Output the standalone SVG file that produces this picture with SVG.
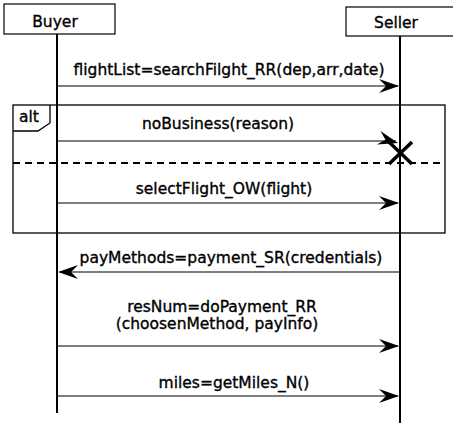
<svg xmlns="http://www.w3.org/2000/svg" width="453" height="429" viewBox="0 0 453 429">
<defs>
<style>
.box{fill:#fff;stroke:#000;stroke-width:1.2}
.life{stroke:#000;stroke-width:2;fill:none}
.msg{stroke:#000;stroke-width:1.2;fill:none}
.t{font-family:"DejaVu Sans",sans-serif;font-size:15.5px;fill:#000;stroke:#000;stroke-width:0.35;text-anchor:middle}
</style>
<path id="ah" d="M0,0 L-20,-7 L-13,0 L-20,7 Z"/>
</defs>
<g id="buyer">
<rect class="box" x="4" y="4" width="111" height="30"/>
<text class="t" x="55" y="27">Buyer</text>
<line class="life" x1="57" y1="34" x2="57" y2="413"/>
</g>
<g id="seller">
<rect class="box" x="346" y="7" width="112" height="29"/>
<text class="t" x="396" y="28">Seller</text>
<line class="life" x1="400" y1="36" x2="400" y2="423"/>
</g>
<g id="alt">
<rect x="13" y="105" width="432" height="128" fill="none" stroke="#000" stroke-width="1.3"/>
<path d="M13,131 L38,131 L50,123 L50,105" fill="none" stroke="#000" stroke-width="1.3"/>
<text class="t" x="29" y="122">alt</text>
<line x1="13" y1="163" x2="445" y2="163" stroke="#000" stroke-width="2" stroke-dasharray="7 5"/>
</g>
<g id="destroy">
<path d="M389,142 L412,164 M412,142 L389,164" stroke="#000" stroke-width="3.5" fill="none"/>
</g>
<g id="connectors">
<line class="msg" x1="57" y1="86" x2="398" y2="86"/>
<use href="#ah" transform="translate(399,86)"/>
<text class="t" x="229" y="75">flightList=searchFilght_RR(dep,arr,date)</text>
<line class="msg" x1="57" y1="141" x2="396" y2="141"/>
<use href="#ah" transform="translate(398,143) rotate(15)"/>
<text class="t" x="218" y="129">noBusiness(reason)</text>
<line class="msg" x1="57" y1="203" x2="398" y2="203"/>
<use href="#ah" transform="translate(399,203)"/>
<text class="t" x="224" y="194">selectFlight_OW(flight)</text>
<line class="msg" x1="400" y1="272" x2="60" y2="272"/>
<use href="#ah" transform="translate(58,272) rotate(180)"/>
<text class="t" x="231" y="263">payMethods=payment_SR(credentials)</text>
<line class="msg" x1="57" y1="346" x2="398" y2="346"/>
<use href="#ah" transform="translate(399,346)"/>
<text class="t" x="222" y="312">resNum=doPayment_RR</text>
<text class="t" x="217" y="329">(choosenMethod, payInfo)</text>
<line class="msg" x1="57" y1="396" x2="398" y2="396"/>
<use href="#ah" transform="translate(399,396)"/>
<text class="t" x="234" y="388">miles=getMiles_N()</text>
</g>
</svg>
